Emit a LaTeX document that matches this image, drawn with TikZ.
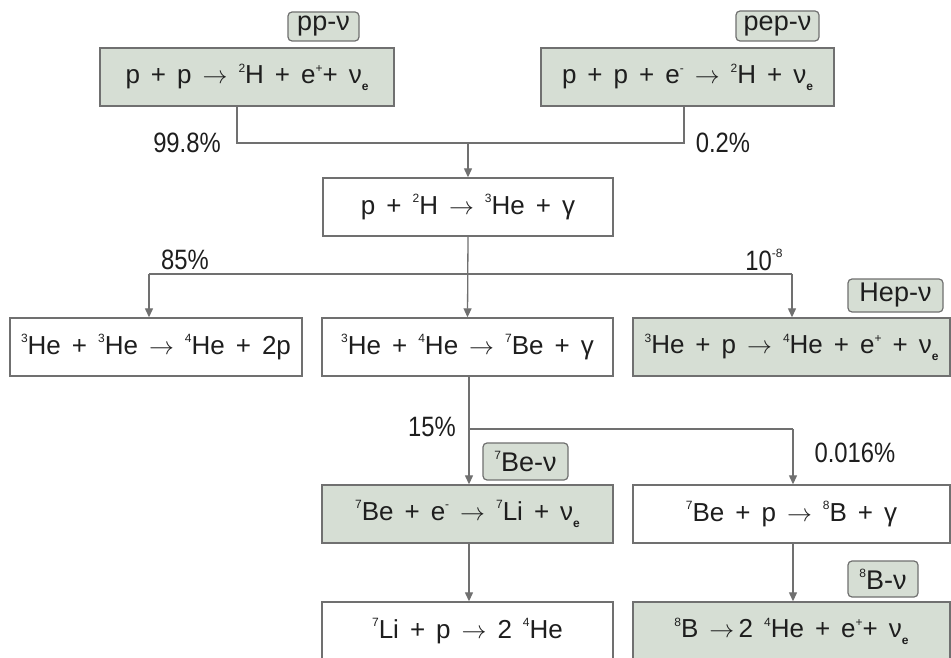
\documentclass[tikz,border=0pt]{standalone}
\usepackage{fontspec}
\setmainfont{Liberation Sans}
\usetikzlibrary{arrows.meta}
\definecolor{boxfill}{RGB}{214,222,212}
\definecolor{edge}{RGB}{112,112,112}
\definecolor{ink}{RGB}{30,30,30}
\newcommand{\up}[1]{\raisebox{0.45em}{\fontsize{12}{12}\selectfont #1}}
\newcommand{\nue}{ν\raisebox{-0.25em}{\fontsize{12}{12}\selectfont\bfseries e}}
\newcommand{\rarr}{\ensuremath{\rightarrow}}
\newcommand{\widesp}{\spaceskip=11pt plus 2pt minus 1pt\relax}
\newcommand{\pc}[1]{\scalebox{0.85}[1]{#1}}
\begin{document}
\begin{tikzpicture}[x=1pt,y=-1pt,
  every node/.style={text=ink},
  rbox/.style={draw=edge, line width=1.4pt, minimum height=58pt, inner sep=0pt, font=\fontsize{26}{26}\selectfont\widesp},
  gbox/.style={rbox, fill=boxfill},
  wbox/.style={rbox, fill=white},
  tagbox/.style={draw=edge, line width=1.2pt, fill=boxfill, rounded corners=4pt, inner sep=0pt, font=\fontsize{27}{27}\selectfont},
  pct/.style={font=\fontsize{28}{28}\selectfont, inner sep=0pt},
  link/.style={draw=edge, line width=1.3pt},
  arr/.style={link, -{Triangle[length=9pt,width=8pt]}}
]
\clip (0,0) rectangle (951,658);
\fill[white] (0,0) rectangle (951,658);
% boxes
\node[gbox, minimum width=294pt] (pp)  at (247,77)   {p + p \rarr\ \up{2}H + e\up{+}+ \nue};
\node[gbox, minimum width=293pt] (pep) at (687.5,77) {p + p + e\up{-} \rarr\ \up{2}H + \nue};
\node[wbox, minimum width=290pt] (b3)  at (468,207)  {p + \up{2}H \rarr\ \up{3}He + γ};
\node[wbox, minimum width=292pt] (r2a) at (156,347)  {\up{3}He + \up{3}He \rarr\ \up{4}He + 2p};
\node[wbox, minimum width=291pt] (r2b) at (467.5,347) {\up{3}He + \up{4}He \rarr\ \up{7}Be + γ};
\node[gbox, minimum width=317pt] (r2c) at (791.5,347) {\up{3}He + p \rarr\ \up{4}He + e\up{+} + \nue};
\node[gbox, minimum width=291pt] (r3a) at (467.5,514) {\up{7}Be + e\up{-} \rarr\ \up{7}Li + \nue};
\node[wbox, minimum width=317pt] (r3b) at (791.5,514) {\up{7}Be + p \rarr\ \up{8}B + γ};
\node[wbox, minimum width=291pt] (r4a) at (467.5,631) {\up{7}Li + p \rarr\ 2 \up{4}He};
\node[gbox, minimum width=317pt] (r4b) at (791.5,631) {\up{8}B \rarr\,2 \up{4}He + e\up{+}+ \nue};
% tags
\node[tagbox, minimum width=71pt, minimum height=29pt] (t1) at (323.5,26.5) {pp-ν};
\node[tagbox, minimum width=83pt, minimum height=30pt] (t2) at (777.5,26) {pep-ν};
\node[tagbox, minimum width=95pt, minimum height=33pt] (t3) at (895.5,295.5) {Hep-ν};
\node[tagbox, minimum width=85pt, minimum height=37pt] (t4) at (525.5,461.5) {\up{7}Be-ν};
\node[tagbox, minimum width=70pt, minimum height=36pt] (t5) at (883,579) {\up{8}B-ν};
% labels
\node[pct] (l1) at (187,143) {\pc{99.8\%}};
\node[pct] (l2) at (723,143) {\pc{0.2\%}};
\node[pct] (l3) at (185,260) {\pc{85\%}};
\node[pct] (l4) at (764,260) {\pc{10}\up{-8}};
\node[pct] (l5) at (432,427) {\pc{15\%}};
\node[pct] (l6) at (855,453) {\pc{0.016\%}};
% junctions
\coordinate (ja) at (237,143);
\coordinate (jb) at (684,143);
\coordinate (jm) at (468,143);
\coordinate (ka) at (149,274);
\coordinate (kb) at (792,274);
\coordinate (ma) at (469,429);
\coordinate (mb) at (793,429);
% connectors
\draw[link] (ja |- pp.south) -- (ja) -- (jb) -- (jb |- pep.south);
\draw[arr] (jm) -- (b3.north);
\draw[arr] (b3.south) -- (r2b.north);
\draw[link] (ka) -- (kb);
\draw[arr] (ka) -- (ka |- r2a.north);
\draw[arr] (kb) -- (kb |- r2c.north);
\draw[arr] (ma |- r2b.south) -- (ma |- r3a.north);
\draw[link] (ma) -- (mb);
\draw[arr] (mb) -- (mb |- r3b.north);
\draw[arr] (ma |- r3a.south) -- (ma |- r4a.north);
\draw[arr] (mb |- r3b.south) -- (mb |- r4b.north);
\end{tikzpicture}
\end{document}
